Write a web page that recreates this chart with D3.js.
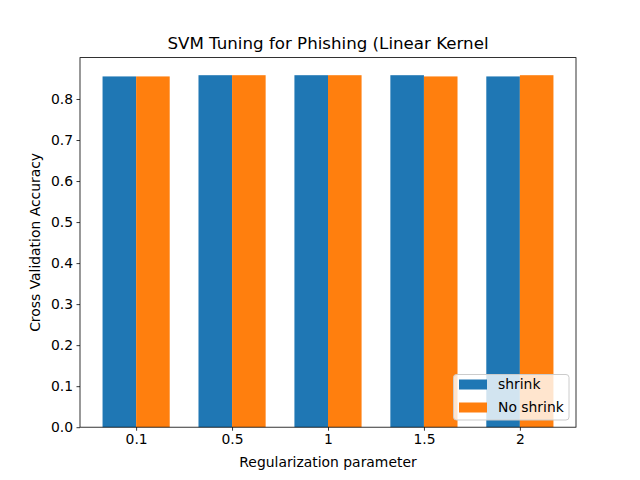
<!DOCTYPE html>
<html><head><meta charset="utf-8">
<script src="https://cdn.jsdelivr.net/npm/d3@7"></script>
<style>body{margin:0;background:#fff}svg{display:block}text{font-family:"DejaVu Sans",sans-serif}</style>
</head><body>
<svg id="c" width="640" height="480"></svg>
<script>
const categories = ["0.1", "0.5", "1", "1.5", "2"];
const shrink = [0.855, 0.858, 0.858, 0.858, 0.855];
const noShrink = [0.855, 0.858, 0.858, 0.855, 0.858];
const yTicks = [0.0, 0.1, 0.2, 0.3, 0.4, 0.5, 0.6, 0.7, 0.8];
const seriesNames = ["shrink", "No shrink"];
const colors = ["#1f77b4", "#ff7f0e"];

const svg = d3.select("#c");
const L = 80, R = 576, T = 57.6, B = 427.2;
const w = 0.35;
const x = d3.scaleLinear().domain([-0.585, 4.585]).range([L, R]);
const ymax = d3.max(shrink.concat(noShrink)) * 1.05;
const y = d3.scaleLinear().domain([0, ymax]).range([B, T]);

const series = [shrink, noShrink];
series.forEach((vals, si) => {
  svg.append("g").selectAll("rect").data(vals).join("rect")
    .attr("x", (d, i) => x(i + (si === 0 ? -w : 0)))
    .attr("width", (d, i) => x(i + w) - x(i))
    .attr("y", d => y(d))
    .attr("height", d => y(0) - y(d))
    .attr("fill", colors[si]);
});

// axes
const xAxis = d3.axisBottom(x).tickValues(d3.range(categories.length)).tickFormat(i => categories[i]).tickSize(3.5).tickPadding(3.5);
const gx = svg.append("g").attr("transform", `translate(0,${B})`).call(xAxis);
const yAxis = d3.axisLeft(y).tickValues(yTicks).tickFormat(d3.format(".1f")).tickSize(3.5).tickPadding(3.5);
const gy = svg.append("g").attr("transform", `translate(${L},0)`).call(yAxis);
[gx, gy].forEach(g => {
  g.select(".domain").remove();
  g.selectAll("text").attr("font-size", 13.9).attr("fill", "#000").style("font-family", "DejaVu Sans");
  g.selectAll("line").attr("stroke", "#000").attr("stroke-width", 0.8);
});
svg.append("rect").attr("x", L).attr("y", T).attr("width", R - L).attr("height", B - T)
  .attr("fill", "none").attr("stroke", "#000").attr("stroke-width", 0.8);

svg.append("text").attr("x", (L + R) / 2).attr("y", 49).attr("text-anchor", "middle")
  .attr("font-size", 16.67).text("SVM Tuning for Phishing (Linear Kernel");
svg.append("text").attr("x", (L + R) / 2).attr("y", 467).attr("text-anchor", "middle")
  .attr("font-size", 13.9).text("Regularization parameter");
svg.append("text").attr("transform", `translate(40,${(T + B) / 2}) rotate(-90)`).attr("text-anchor", "middle")
  .attr("font-size", 13.9).text("Cross Validation Accuracy");

// legend
const lg = svg.append("g");
lg.append("rect").attr("x", 453.5).attr("y", 374.5).attr("width", 115.5).attr("height", 45.5)
  .attr("rx", 3).attr("fill", "#fff").attr("fill-opacity", 0.8).attr("stroke", "#cccccc").attr("stroke-width", 1);
seriesNames.forEach((n, i) => {
  const cy = 384 + i * 23;
  lg.append("rect").attr("x", 459).attr("y", cy - 4.5).attr("width", 28).attr("height", 10).attr("fill", colors[i]);
  lg.append("text").attr("x", 498).attr("y", cy + 5).attr("font-size", 13.9).text(n);
});
</script>
</body></html>
